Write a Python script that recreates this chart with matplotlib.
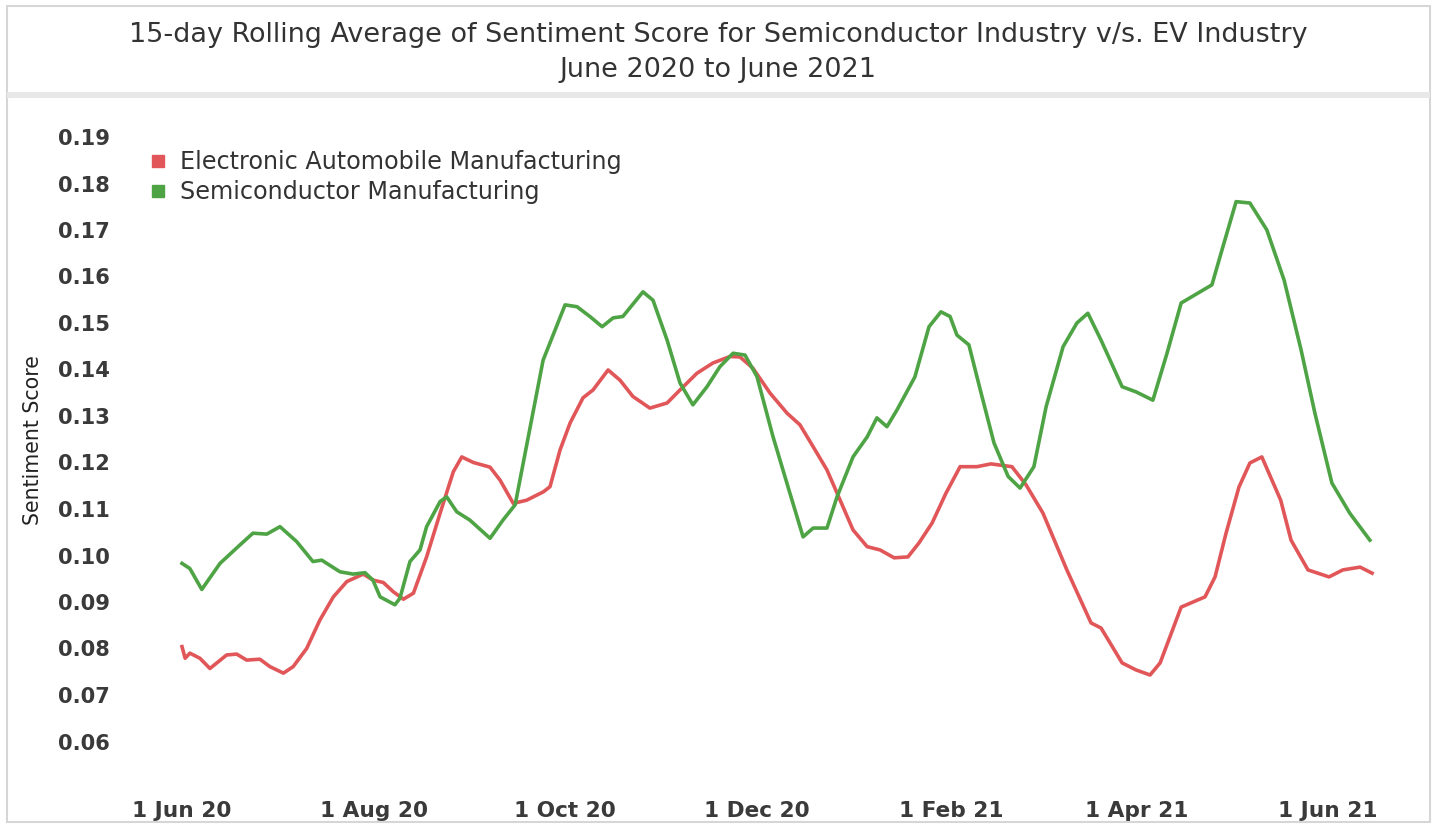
import matplotlib
matplotlib.use("Agg")
import matplotlib.pyplot as plt
from matplotlib.lines import Line2D
from matplotlib.patches import Rectangle
import numpy as np
import pandas as pd

plt.rcParams['font.family'] = ['DejaVu Sans']

start = pd.Timestamp('2020-06-01')

# day offsets from 1 Jun 2020 and values
semi_days = [0, 2.5, 6.3, 12.1, 18.5, 22.6, 27, 31.2, 36.5, 41.7, 44.5, 50.3, 54.5, 58.3, 60.8,
             63.1, 67.8, 69.4, 72.6, 75.8, 77.9, 82.2, 84.3, 87.5, 91.7, 98.1, 102.2, 106.1,
             115, 122, 125.8, 129.9, 133.8, 137.3, 140.4, 146.8, 150, 154.5, 158.6, 162.7,
             167.2, 171.3, 175.5, 179.3, 183.1, 188.2, 193.6, 197.8, 201, 205.4, 208.6, 213.7,
             218.2, 221.3, 224.5, 227.7, 233.4, 237.9, 241.7, 244.6, 246.8, 250.6, 254.5,
             258.6, 263.1, 266.9, 271.3, 275.2, 280.6, 285, 288.5, 292.7, 299.4, 303.8, 309.2,
             313.7, 318.2, 328, 331.2, 335.7, 340.1, 345.5, 351, 356.4, 360.8, 366.2, 371.9, 378.3]
semi_vals = [0.0983, 0.0972, 0.0927, 0.0983, 0.1023, 0.1048, 0.1046, 0.1062, 0.1030, 0.0987,
             0.0990, 0.0965, 0.0960, 0.0963, 0.0947, 0.0911, 0.0894, 0.0908, 0.0987, 0.1012,
             0.1062, 0.1116, 0.1126, 0.1094, 0.1076, 0.1037, 0.1076, 0.1109, 0.1420, 0.1539,
             0.1535, 0.1514, 0.1492, 0.1511, 0.1514, 0.1567, 0.1549, 0.1463, 0.1371, 0.1324,
             0.1363, 0.1406, 0.1435, 0.1431, 0.1385, 0.1256, 0.1134, 0.1040, 0.1059, 0.1059,
             0.1126, 0.1212, 0.1255, 0.1296, 0.1277, 0.1313, 0.1384, 0.1492, 0.1524, 0.1514,
             0.1474, 0.1453, 0.1349, 0.1242, 0.1170, 0.1145, 0.1191, 0.1320, 0.1449, 0.1500,
             0.1521, 0.1463, 0.1363, 0.1352, 0.1334, 0.1435, 0.1543, 0.1582, 0.1657, 0.1761,
             0.1758, 0.1700, 0.1592, 0.1442, 0.1306, 0.1156, 0.1091, 0.1033]

ev_days = [0, 1, 2.5, 5.7, 8.9, 14.2, 17.4, 20.6, 24.8, 28, 32.3, 35.4, 39.7, 43.9, 48.2, 52.5,
           57.7, 60.9, 64.1, 67.3, 70.5, 73.7, 77.9, 82.2, 86.4, 89.1, 92.8, 98.1, 101.3, 105.5,
           109.8, 115.1, 117.2, 120.4, 123.6, 127.7, 130.9, 135.7, 139.5, 143.6, 149, 154.5,
           158.6, 164, 169.1, 174.5, 177.7, 181.8, 187.3, 192.7, 196.8, 201, 205.4, 209.6,
           213.7, 218.2, 222.3, 226.8, 231.2, 234.7, 238.9, 243.3, 247.8, 253.2, 257.6, 264.3,
           268.8, 274.2, 281.8, 289.5, 292.7, 299.4, 303.8, 308.3, 311.5, 318.2, 325.8, 329,
           332.5, 336.6, 340.1, 343.9, 349.9, 353.2, 358.6, 365.3, 369.7, 375.2, 379]
ev_vals = [0.0804, 0.0779, 0.0790, 0.0779, 0.0757, 0.0786, 0.0788, 0.0775, 0.0777, 0.0761,
           0.0747, 0.0761, 0.0800, 0.0861, 0.0911, 0.0944, 0.0960, 0.0947, 0.0942, 0.0922,
           0.0906, 0.0919, 0.0997, 0.1091, 0.1180, 0.1212, 0.1200, 0.1190, 0.1162, 0.1112,
           0.1119, 0.1137, 0.1148, 0.1227, 0.1285, 0.1339, 0.1356, 0.1399, 0.1377, 0.1342,
           0.1317, 0.1328, 0.1356, 0.1392, 0.1414, 0.1428, 0.1427, 0.1403, 0.1349, 0.1306,
           0.1281, 0.1234, 0.1184, 0.1119, 0.1055, 0.1019, 0.1012, 0.0995, 0.0997, 0.1027,
           0.1070, 0.1134, 0.1191, 0.1191, 0.1197, 0.1191, 0.1152, 0.1091, 0.0969, 0.0855,
           0.0844, 0.0769, 0.0754, 0.0743, 0.0769, 0.0889, 0.0911, 0.0954, 0.1048, 0.1147,
           0.1199, 0.1212, 0.1119, 0.1033, 0.0969, 0.0954, 0.0969, 0.0975, 0.0962]

series_names = ['Electronic Automobile Manufacturing', 'Semiconductor Manufacturing']
series_colors = ['#E15759', '#4EA445']

y_ticks = [0.06, 0.07, 0.08, 0.09, 0.10, 0.11, 0.12, 0.13, 0.14, 0.15, 0.16, 0.17, 0.18, 0.19]
x_ticks = ['2020-06-01', '2020-08-01', '2020-10-01', '2020-12-01', '2021-02-01', '2021-04-01', '2021-06-01']
x_tick_labels = ['1 Jun 20', '1 Aug 20', '1 Oct 20', '1 Dec 20', '1 Feb 21', '1 Apr 21', '1 Jun 21']

title_line1 = '15-day Rolling Average of Sentiment Score for Semiconductor Industry v/s. EV Industry'
title_line2 = 'June 2020 to June 2021'
y_title = 'Sentiment Score'

W, H = 1435, 825
fig = plt.figure(figsize=(W / 100, H / 100), dpi=100)
fig.patch.set_facecolor('white')
renderer = fig.canvas.get_renderer()

def fx(px):
    return px / W

def fy(py):
    return 1 - py / H

def fit_width(txt, target_px, horizontal=True):
    bb = txt.get_window_extent(renderer)
    cur = bb.width if horizontal else bb.height
    txt.set_fontsize(txt.get_fontsize() * target_px / cur)
    return txt.get_fontsize()

TEXT = '#333333'

ax_l, ax_r, ax_t, ax_b = 125, 1420, 110, 787
ax = fig.add_axes([fx(ax_l), fy(ax_b), fx(ax_r) - fx(ax_l), fy(ax_t) - fy(ax_b)])

ev_dates = start + pd.to_timedelta(np.array(ev_days), unit='D')
semi_dates = start + pd.to_timedelta(np.array(semi_days), unit='D')

ax.plot(ev_dates, ev_vals, color=series_colors[0], lw=2.6, solid_joinstyle='round', zorder=3)
ax.plot(semi_dates, semi_vals, color=series_colors[1], lw=2.6, solid_joinstyle='round', zorder=3)

px_per_day = 3.14
ax.set_xlim(start + pd.Timedelta(days=(ax_l - 182) / px_per_day),
            start + pd.Timedelta(days=(ax_r - 182) / px_per_day))
ax.set_ylim(0.19 - (ax_b - 137) / 4650, 0.19 + (137 - ax_t) / 4650)

# font sizes fitted to the text widths seen in the reference
probe = fig.text(0, 0, '0.19', fontsize=15, fontweight='bold')
ytick_fs = fit_width(probe, 52)
probe.set_text('1 Jun 20'); probe.set_fontsize(15)
xtick_fs = fit_width(probe, 99)
probe.remove()

ax.set_yticks(y_ticks)
ax.set_yticklabels([f'{v:.2f}' for v in y_ticks])
ax.set_xticks(pd.to_datetime(x_ticks))
ax.set_xticklabels(x_tick_labels)
ax.tick_params(axis='both', length=0, labelcolor='#3a3a3a')
ax.tick_params(axis='y', pad=11, labelsize=ytick_fs)
ax.tick_params(axis='x', pad=10, labelsize=xtick_fs)
for lab in ax.get_xticklabels() + ax.get_yticklabels():
    lab.set_fontweight('bold')
for s in ax.spines.values():
    s.set_visible(False)
ax.grid(False)

yl = fig.text(fx(33), fy(440), y_title, rotation=90, ha='center', va='center',
              fontsize=13, color='#222222')
fit_width(yl, 170, horizontal=False)

probe = fig.text(0, 0, series_names[0], fontsize=15)
leg_fs = fit_width(probe, 443)
probe.remove()

handles = [Line2D([], [], marker='s', linestyle='none', markersize=9, color=c) for c in series_colors]
leg = ax.legend(handles, series_names, loc='upper left', bbox_to_anchor=(fx(150), fy(150)),
                bbox_transform=fig.transFigure, frameon=False, fontsize=leg_fs,
                handlelength=0.7, handletextpad=0.55, labelspacing=0.25, borderpad=0, borderaxespad=0)
for t in leg.get_texts():
    t.set_color(TEXT)

t1 = fig.text(fx(718), fy(35), title_line1, ha='center', va='center', fontsize=18, color=TEXT)
tfs = fit_width(t1, 1180)
fig.text(fx(718), fy(70), title_line2, ha='center', va='center', fontsize=tfs, color=TEXT)

# frame and title separator
fig.patches.append(Rectangle((fx(7), fy(822)), fx(1430) - fx(7), fy(6) - fy(822),
                             transform=fig.transFigure, fill=False, edgecolor='#d6d6d6', lw=1.5))
fig.patches.append(Rectangle((fx(7), fy(98)), fx(1430) - fx(7), fy(92) - fy(98),
                             transform=fig.transFigure, facecolor='#e8e8e8', edgecolor='none'))

fig.savefig('out.png', dpi=100)
